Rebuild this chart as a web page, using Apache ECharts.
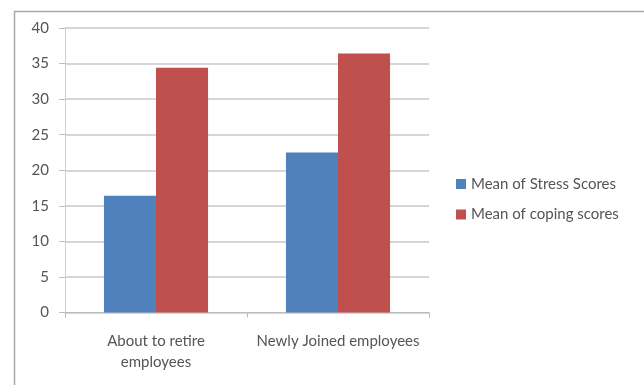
<!DOCTYPE html>
<html>
<head>
<meta charset="utf-8">
<script src="https://cdn.jsdelivr.net/npm/echarts@6/dist/echarts.min.js"></script>
<style>
  html, body { margin: 0; padding: 0; background: #fff; }
  #chart { width: 644px; height: 385px; }
</style>
</head>
<body>
<div id="chart"></div>
<script>
// Employee groups on the category axis
const categories = ['About to retire\nemployees', 'Newly Joined employees'];
// Mean scores per group
const stressMeans = [16.4, 22.5];
const copingMeans = [34.4, 36.4];
const seriesNames = ['Mean of Stress Scores', 'Mean of coping scores'];
// Value axis range
const yMin = 0, yMax = 40, yStep = 5;

const FONT = 'Lato';
const TEXT = '#555555';

const chart = echarts.init(document.getElementById('chart'), null, { renderer: 'canvas' });

chart.setOption({
  backgroundColor: '#ffffff',
  animation: false,
  textStyle: { fontFamily: FONT },
  graphic: [{
    type: 'rect',
    left: 12, top: 9,
    shape: { width: 700, height: 420 },
    style: { fill: 'none', stroke: '#a8a8a8', lineWidth: 1.5 },
    silent: true
  }],
  grid: { left: 65, right: 215, top: 28, bottom: 72.5, containLabel: false },
  legend: {
    orient: 'vertical',
    left: 456, top: 175,
    padding: 0,
    itemWidth: 10, itemHeight: 10, itemGap: 12.5,
    icon: 'rect',
    data: seriesNames,
    textStyle: { fontFamily: FONT, fontSize: 15, color: TEXT, lineHeight: 18 }
  },
  xAxis: {
    type: 'category',
    data: categories,
    axisLine: { show: true, lineStyle: { color: '#bdbdbd', width: 1 } },
    axisTick: { show: true, length: 5, lineStyle: { color: '#bdbdbd' } },
    axisLabel: { fontFamily: FONT, fontSize: 15, color: TEXT, margin: 18, lineHeight: 21, interval: 0 }
  },
  yAxis: {
    type: 'value',
    min: yMin, max: yMax, interval: yStep,
    axisLine: { show: true, lineStyle: { color: '#cfcfcf', width: 1 } },
    axisTick: { show: true, length: 6, lineStyle: { color: '#bdbdbd' } },
    axisLabel: { fontFamily: FONT, fontSize: 15, color: TEXT, margin: 16 },
    splitLine: { show: true, lineStyle: { color: '#c8c8c8', width: 1.5 } }
  },
  series: [
    {
      name: seriesNames[0], type: 'bar', data: stressMeans,
      barWidth: '28.6%', barGap: '0%',
      itemStyle: { color: '#4F81BD' }
    },
    {
      name: seriesNames[1], type: 'bar', data: copingMeans,
      barWidth: '28.6%', barGap: '0%',
      itemStyle: { color: '#C0504D' }
    }
  ]
});
</script>
</body>
</html>
